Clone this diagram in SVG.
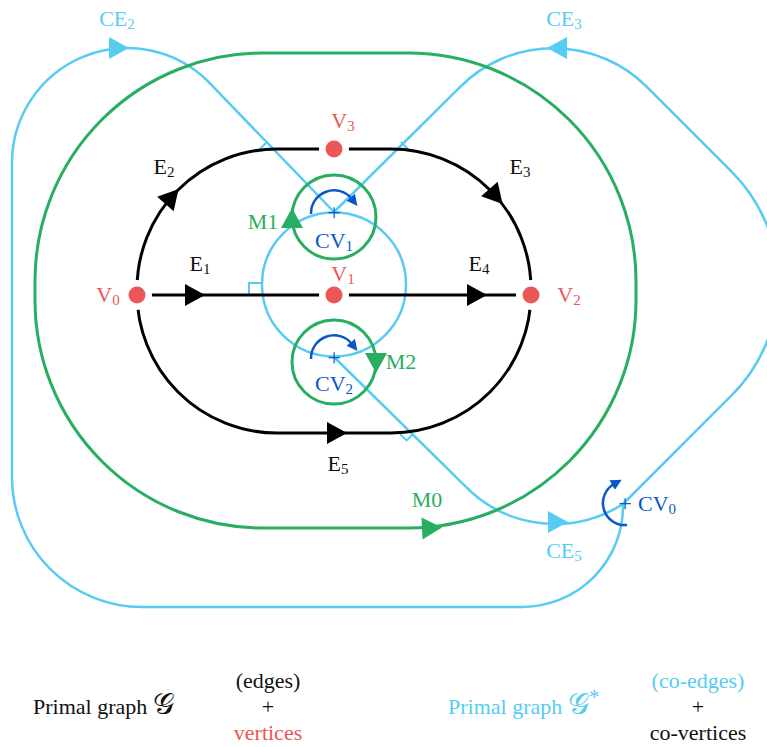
<svg xmlns="http://www.w3.org/2000/svg" width="767" height="747" viewBox="0 0 767 747">
<style>
.lbl{font-family:"Liberation Serif","DejaVu Serif",serif;font-size:22px;text-anchor:middle}
.sub{font-size:15px}
.blk{fill:#111}
.red{fill:#EB5757}
.lb{fill:#56CCF2}
.gr{fill:#27AE60}
.db{fill:#0B57C9}
.edge{fill:none;stroke:#000;stroke-width:3}
.co{fill:none;stroke:#56CCF2;stroke-width:2.5}
.mo{fill:none;stroke:#27AE60;stroke-width:3}
.rot{fill:none;stroke:#0B57C9;stroke-width:2.5}
.ra{fill:none;stroke:#56CCF2;stroke-width:2}
.halo{fill:#fff}
.vx{fill:#EB5757}
.plus{font-family:"Liberation Serif","DejaVu Serif",serif;font-size:24px;text-anchor:middle;fill:#0B57C9}
.leg{font-family:"Liberation Serif","DejaVu Serif",serif;font-size:22px}
</style>
<defs>
<path id="tri" d="M-10,-11 L10,0 L-10,11 Z"/>
<marker id="rh" viewBox="0 0 10 10" refX="2" refY="5" markerWidth="11" markerHeight="11" markerUnits="userSpaceOnUse" orient="auto">
<path d="M0,0 L10,5 L0,10 Z" fill="#0B57C9"/>
</marker>
</defs>

<g id="connectors">
  <g id="coedges">
    <path id="CE2" class="co" d="M623,504 A101,101 0 0 1 523,607 L142,607 A130,130 0 0 1 12,477 L12,163 A115,115 0 0 1 208.3,81.7 L334,212"/>
    <path id="CE3" class="co" d="M623,504 L731.8,395.2 A158,158 0 0 0 731.8,171.8 L646.8,86.8 A132,132 0 0 0 460.2,86.8 L334,212"/>
    <path id="CE5" class="co" d="M334,357 L464.2,485.2 A126,126 0 0 0 623,504"/>
    <circle id="CE1_CE4" class="co" cx="334" cy="284.5" r="72"/>
    <path class="ra" d="M249,295 V283 H262"/>
    <path class="ra" d="M267,142 L260,149 L262,151"/>
    <path class="ra" d="M401,142 L408,149 L406,151"/>
    <path class="ra" d="M413,434 L406.6,440.4 L400,434"/>
    <use href="#tri" class="lb" transform="translate(119,48)"/>
    <use href="#tri" class="lb" transform="translate(557,48) rotate(180)"/>
    <use href="#tri" class="lb" transform="translate(558,522)"/>
  </g>
  <g id="motions">
    <rect id="M0" class="mo" x="35" y="53" width="601" height="475" rx="228" ry="228"/>
    <circle id="M1" class="mo" cx="334" cy="217" r="42"/>
    <circle id="M2" class="mo" cx="334" cy="362" r="42"/>
    <use href="#tri" class="gr" transform="translate(432,528) rotate(-3)"/>
    <use href="#tri" class="gr" transform="translate(292,218) rotate(-90)"/>
    <use href="#tri" class="gr" transform="translate(376,363) rotate(90)"/>
  </g>
  <g id="edges">
    <path id="E2" class="edge" d="M137,295 L137,289 A140,140 0 0 1 277,149 L334,149"/>
    <path id="E3" class="edge" d="M334,149 L391,149 A140,140 0 0 1 531,289 L531,295"/>
    <path id="E5" class="edge" d="M137,295 L137,293 A140,140 0 0 0 277,433 L391,433 A140,140 0 0 0 531,293 L531,295"/>
    <path id="E1" class="edge" d="M137,295 H334"/>
    <path id="E4" class="edge" d="M334,295 H531"/>
    <use href="#tri" transform="translate(195,295)"/>
    <use href="#tri" transform="translate(477,295)"/>
    <use href="#tri" transform="translate(337,433)"/>
    <use href="#tri" transform="translate(172,196.5) rotate(-48.6)"/>
    <use href="#tri" transform="translate(496,196.5) rotate(48.6)"/>
  </g>
</g>

<g id="V0"><circle class="halo" cx="137" cy="295" r="15"/><circle class="vx" cx="137" cy="295" r="8.5"/>
  <text class="lbl red" x="108" y="302">V<tspan class="sub" dy="3">0</tspan></text></g>
<g id="V1"><circle class="halo" cx="334" cy="295" r="15"/><circle class="vx" cx="334" cy="295" r="8.5"/>
  <text class="lbl red" x="343" y="281">V<tspan class="sub" dy="3">1</tspan></text></g>
<g id="V2"><circle class="halo" cx="531" cy="295" r="15"/><circle class="vx" cx="531" cy="295" r="8.5"/>
  <text class="lbl red" x="569" y="302">V<tspan class="sub" dy="3">2</tspan></text></g>
<g id="V3"><circle class="halo" cx="334" cy="149" r="15"/><circle class="vx" cx="334" cy="149" r="8.5"/>
  <text class="lbl red" x="343" y="128">V<tspan class="sub" dy="3">3</tspan></text></g>

<g id="CV1">
  <path class="rot" d="M311,214 A23,23 0 0 1 352,199" marker-end="url(#rh)"/>
  <text class="plus" x="334" y="220">+</text>
  <text class="lbl db" x="334" y="248">CV<tspan class="sub" dy="3">1</tspan></text>
</g>
<g id="CV2">
  <path class="rot" d="M311,359 A23,23 0 0 1 352,344" marker-end="url(#rh)"/>
  <text class="plus" x="334" y="365">+</text>
  <text class="lbl db" x="334" y="391">CV<tspan class="sub" dy="3">2</tspan></text>
</g>
<g id="CV0">
  <path class="rot" d="M627,525 A22,22 0 0 1 614,484" marker-end="url(#rh)"/>
  <text class="plus" x="625" y="511">+</text>
  <text class="lbl db" x="638" y="511" style="text-anchor:start">CV<tspan class="sub" dy="3">0</tspan></text>
</g>

<g id="labels">
  <text class="lbl lb" x="117" y="26">CE<tspan class="sub" dy="3">2</tspan></text>
  <text class="lbl lb" x="564" y="26">CE<tspan class="sub" dy="3">3</tspan></text>
  <text class="lbl lb" x="564" y="558">CE<tspan class="sub" dy="3">5</tspan></text>
  <text class="lbl blk" x="164" y="174">E<tspan class="sub" dy="3">2</tspan></text>
  <text class="lbl blk" x="520" y="174">E<tspan class="sub" dy="3">3</tspan></text>
  <text class="lbl blk" x="200" y="271">E<tspan class="sub" dy="3">1</tspan></text>
  <text class="lbl blk" x="479" y="271">E<tspan class="sub" dy="3">4</tspan></text>
  <text class="lbl blk" x="338" y="471">E<tspan class="sub" dy="3">5</tspan></text>
  <text class="lbl gr" x="263" y="229">M1</text>
  <text class="lbl gr" x="401" y="369">M2</text>
  <text class="lbl gr" x="427" y="507">M0</text>
</g>

<g id="legend">
  <text class="leg blk" x="33" y="714">Primal graph <tspan font-size="30">𝒢</tspan></text>
  <text class="leg blk" x="268" y="688" text-anchor="middle">(edges)</text>
  <text class="leg blk" x="268" y="714" text-anchor="middle">+</text>
  <text class="leg red" x="268" y="740" text-anchor="middle">vertices</text>
  <text class="leg lb" x="448" y="714">Primal graph <tspan font-size="30">𝒢</tspan><tspan dy="-10">*</tspan></text>
  <text class="leg lb" x="698" y="688" text-anchor="middle">(co-edges)</text>
  <text class="leg blk" x="698" y="714" text-anchor="middle">+</text>
  <text class="leg blk" x="698" y="740" text-anchor="middle">co-vertices</text>
</g>
</svg>
